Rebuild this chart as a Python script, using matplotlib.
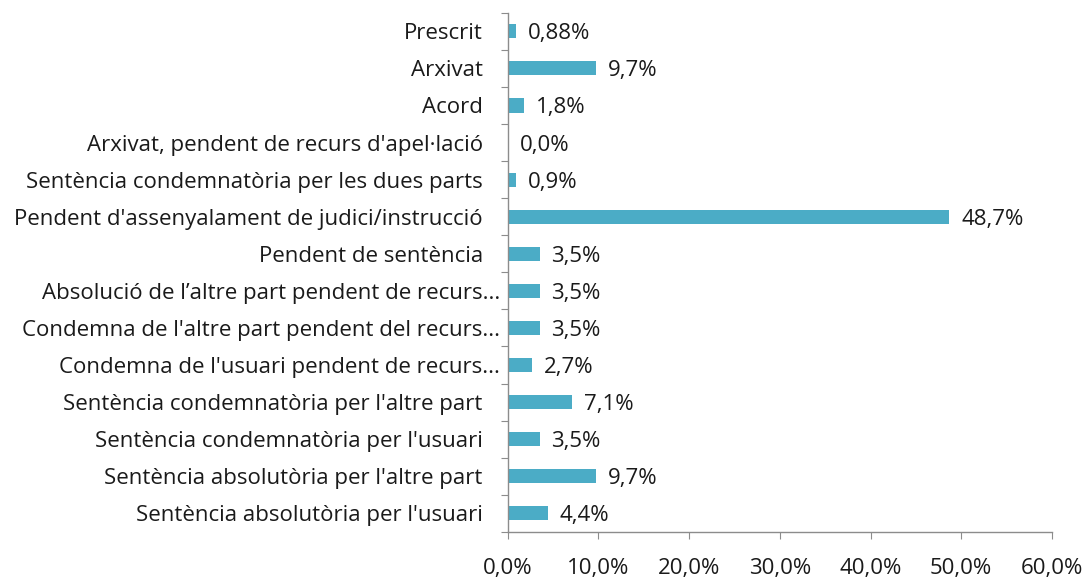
import matplotlib.pyplot as plt
import numpy as np

# categories from bottom to top
categories = [
    "Sentència absolutòria per l'usuari",
    "Sentència absolutòria per l'altre part",
    "Sentència condemnatòria per l'usuari",
    "Sentència condemnatòria per l'altre part",
    "Condemna de l'usuari pendent de recurs...",
    "Condemna de l'altre part pendent del recurs...",
    "Absolució de l’altre part pendent de recurs...",
    "Pendent de sentència",
    "Pendent d'assenyalament de judici/instrucció",
    "Sentència condemnatòria per les dues parts",
    "Arxivat, pendent de recurs d'apel·lació",
    "Acord",
    "Arxivat",
    "Prescrit",
]
values = [4.4, 9.7, 3.5, 7.1, 2.7, 3.5, 3.5, 3.5, 48.7, 0.9, 0.0, 1.8, 9.7, 0.88]
value_labels = ["4,4%", "9,7%", "3,5%", "7,1%", "2,7%", "3,5%", "3,5%", "3,5%",
                "48,7%", "0,9%", "0,0%", "1,8%", "9,7%", "0,88%"]
xticks = [0, 10, 20, 30, 40, 50, 60]
xtick_labels = ["0,0%", "10,0%", "20,0%", "30,0%", "40,0%", "50,0%", "60,0%"]

plt.rcParams['font.family'] = ['Open Sans', 'DejaVu Sans']
text_color = '#1a1a1a'
axis_color = '#8c8c8c'
fs = 16

fig = plt.figure(figsize=(10.85, 5.8), dpi=100)
ax = fig.add_axes([0.468, 0.083, 0.5015, 0.895])

y = np.arange(len(categories))
ax.barh(y, values, height=0.38, color='#4bacc6')

for yi, v, lab in zip(y, values, value_labels):
    ax.annotate(lab, (v, yi), xytext=(12, 0), textcoords='offset pixels',
                va='center_baseline', ha='left', fontsize=fs, color=text_color)

# category labels drawn as text so truncated ones (ending in ...) can sit closer to the axis
for yi, cat in zip(y, categories):
    off = -8 if cat.endswith('...') else -25
    ax.annotate(cat, (0, yi), xycoords=('axes fraction', 'data'),
                xytext=(off, 0), textcoords='offset pixels',
                va='center_baseline', ha='right', fontsize=fs, color=text_color)

ax.set_xlim(0, 60)
ax.set_ylim(-0.5, len(categories) - 0.5)
ax.set_xticks(xticks)
ax.set_xticklabels(xtick_labels, fontsize=fs, color=text_color)
ax.set_yticks(np.arange(-0.5, len(categories), 1.0))
ax.set_yticklabels([])
ax.tick_params(axis='y', length=5, color=axis_color, direction='out')
ax.tick_params(axis='x', length=5, color=axis_color, direction='out', pad=14)

for side in ['top', 'right']:
    ax.spines[side].set_visible(False)
for side in ['left', 'bottom']:
    ax.spines[side].set_color(axis_color)
    ax.spines[side].set_linewidth(1.0)

fig.savefig('out.png', dpi=100)
